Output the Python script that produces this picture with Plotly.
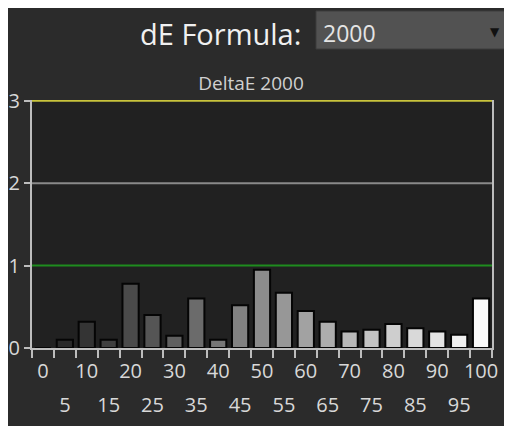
import plotly.graph_objects as go

categories = [str(v) for v in range(0, 101, 5)]
delta_e = [0.0, 0.10, 0.32, 0.10, 0.78, 0.40, 0.15, 0.60, 0.10, 0.52, 0.95,
           0.67, 0.45, 0.32, 0.20, 0.22, 0.29, 0.24, 0.20, 0.16, 0.60]
major_labels = [c if i % 2 == 0 else "" for i, c in enumerate(categories)]
minor_labels = [c for i, c in enumerate(categories) if i % 2 == 1]
ref_lines = [(3, "#c9c43c"), (2, "#8a8a8a"), (1, "#1f8c1f")]

FONT = "Open Sans"
n = len(categories)
OFF = 8  # page body margin, figure sits 8px in
W, H = 512 - OFF, 426 - OFF

# grey ramp dark -> white along the stimulus level
def grey(i):
    g = int(30 + 220 * i / (n - 1))
    return f"rgb({g},{g},{g})"

bars = go.Bar(
    x=categories,
    y=delta_e,
    marker=dict(color=[grey(i) for i in range(n)],
                line=dict(color="#050505", width=2)),
    width=0.74,
    showlegend=False,
)

fig = go.Figure(bars)
# empty trace so the second label row axis gets drawn
fig.add_trace(go.Scatter(x=[0], y=[None], xaxis="x2", yaxis="y",
                         showlegend=False, hoverinfo="skip"))

for val, col in ref_lines:
    fig.add_shape(type="line", xref="paper", yref="y", x0=0, x1=1, y0=val, y1=val,
                  line=dict(color=col, width=2), layer="above")

# formula selector box (paper coords relative to plot area 32..492 x 100..348)
fig.add_shape(type="rect", xref="paper", yref="paper",
              x0=(316 - 32) / 460, x1=(530 - 32) / 460,
              y0=1 + (100 - 49) / 248, y1=1 + (100 - 11) / 248,
              fillcolor="#525252", line=dict(color="#3c3c3c", width=1))

fig.add_annotation(text="dE Formula:", xref="paper", yref="paper",
                   x=(303 - 32) / 460, y=1 + (100 - 33) / 248,
                   xanchor="right", yanchor="middle", showarrow=False,
                   font=dict(family=FONT, size=29, color="#f0f0f0"))
fig.add_annotation(text="2000", xref="paper", yref="paper",
                   x=(321 - 32) / 460, y=1 + (100 - 33) / 248,
                   xanchor="left", yanchor="middle", showarrow=False,
                   font=dict(family=FONT, size=23, color="#e4e4e4"))
fig.add_annotation(text="▼", xref="paper", yref="paper",
                   x=(502 - 32) / 460, y=1 + (100 - 32) / 248,
                   xanchor="right", yanchor="middle", showarrow=False,
                   font=dict(family="DejaVu Sans", size=12, color="#111111"))

fig.update_layout(
    width=W, height=H,
    margin=dict(l=32 - OFF, r=W - (492 - OFF), t=100 - OFF, b=H - (348 - OFF),
                autoexpand=False),
    paper_bgcolor="#2b2b2b",
    plot_bgcolor="#212121",
    font=dict(family=FONT, color="#d8d8d8", size=20),
    title=dict(text="DeltaE 2000", x=(251 - OFF) / W, xref="container",
               xanchor="center", y=1 - (83 - OFF) / H, yanchor="middle",
               font=dict(family=FONT, size=19, color="#d0d0d0")),
    bargap=0.26,
    xaxis=dict(
        type="category", categoryorder="array", categoryarray=categories,
        range=[-0.5, n - 0.5], tickson="boundaries",
        tickmode="array", tickvals=categories, ticktext=major_labels,
        tickangle=0, automargin=False, ticklabelstandoff=4,
        ticks="outside", ticklen=8, tickwidth=2, tickcolor="#bdbdbd",
        showline=True, linecolor="#bdbdbd", linewidth=2,
        showgrid=False, zeroline=False,
        tickfont=dict(family=FONT, size=20, color="#d8d8d8"),
    ),
    xaxis2=dict(
        overlaying="x", anchor="y", side="bottom", type="linear",
        range=[-0.5, n - 0.5],
        tickmode="array", tickvals=list(range(1, n, 2)), ticktext=minor_labels,
        tickangle=0, automargin=False,
        ticks="", showline=False, showgrid=False, zeroline=False,
        ticklabelstandoff=43,
        tickfont=dict(family=FONT, size=20, color="#d8d8d8"),
    ),
    yaxis=dict(
        range=[0, 3.01], tickvals=[0, 1, 2, 3], automargin=False,
        ticks="outside", ticklen=6, tickwidth=2, tickcolor="#bdbdbd",
        showline=True, linecolor="#bdbdbd", linewidth=2, mirror=True,
        showgrid=False, zeroline=False,
        tickfont=dict(family=FONT, size=20, color="#d8d8d8"),
    ),
)

fig.write_html("out.html")
